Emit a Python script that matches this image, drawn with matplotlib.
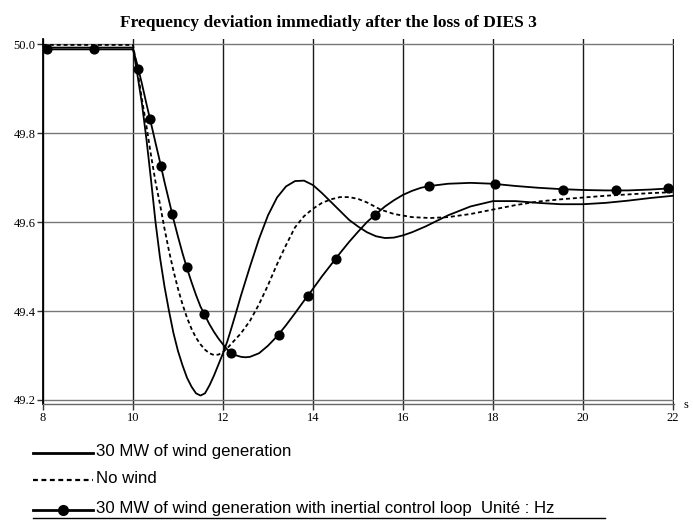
import matplotlib
matplotlib.use('Agg')
import matplotlib.pyplot as plt
from matplotlib.lines import Line2D

# ---------------- data ----------------
t_wind = [8.0, 10.0, 10.1, 10.2, 10.3, 10.4, 10.5, 10.6, 10.7, 10.8, 10.9, 11.0,
          11.1, 11.2, 11.3, 11.4, 11.5, 11.6, 11.7, 11.8, 11.9, 12.0, 12.1, 12.2,
          12.3, 12.4, 12.6, 12.8, 13.0, 13.2, 13.4, 13.6, 13.8, 14.0, 14.2, 14.4,
          14.6, 14.8, 15.0, 15.2, 15.4, 15.6, 15.8, 16.0, 16.2, 16.5, 17.0, 17.5,
          18.0, 18.5, 19.0, 19.5, 20.0, 20.5, 21.0, 21.5, 22.0]
f_wind = [49.992, 49.992, 49.93, 49.865, 49.785, 49.695, 49.60, 49.52, 49.455, 49.40,
          49.35, 49.31, 49.278, 49.25, 49.23, 49.215, 49.21, 49.215, 49.233, 49.255,
          49.28, 49.305, 49.333, 49.366, 49.40, 49.435, 49.50, 49.562, 49.615, 49.655,
          49.68, 49.692, 49.693, 49.683, 49.665, 49.645, 49.625, 49.605, 49.59,
          49.577, 49.568, 49.564, 49.565, 49.57, 49.577, 49.59, 49.615, 49.635,
          49.647, 49.647, 49.643, 49.64, 49.64, 49.643, 49.648, 49.654, 49.659]

t_nowind = [8.0, 10.0, 10.1, 10.2, 10.3, 10.4, 10.5, 10.6, 10.7, 10.8, 10.9, 11.0,
            11.1, 11.2, 11.3, 11.4, 11.5, 11.6, 11.7, 11.8, 11.9, 12.0, 12.1, 12.2,
            12.4, 12.6, 12.8, 13.0, 13.2, 13.4, 13.6, 13.8, 14.0, 14.2, 14.4, 14.6,
            14.8, 15.0, 15.2, 15.5, 15.8, 16.2, 16.6, 17.0, 17.5, 18.0, 18.5, 19.0,
            19.5, 20.0, 20.5, 21.0, 21.5, 22.0]
f_nowind = [49.998, 49.998, 49.94, 49.875, 49.815, 49.75, 49.69, 49.64, 49.585,
            49.535, 49.49, 49.45, 49.415, 49.385, 49.36, 49.34, 49.325, 49.313,
            49.305, 49.301, 49.302, 49.308, 49.317, 49.328, 49.35, 49.378, 49.415,
            49.458, 49.505, 49.548, 49.588, 49.613, 49.63, 49.643, 49.651, 49.656,
            49.656, 49.652, 49.644, 49.628, 49.618, 49.611, 49.609, 49.611, 49.618,
            49.628, 49.638, 49.646, 49.651, 49.655, 49.659, 49.662, 49.665, 49.667]

t_inertial = [8.0, 10.0, 10.1, 10.2, 10.3, 10.4, 10.5, 10.6, 10.7, 10.8, 10.9, 11.0,
              11.1, 11.2, 11.3, 11.4, 11.5, 11.6, 11.7, 11.8, 11.9, 12.0, 12.1, 12.2,
              12.3, 12.4, 12.5, 12.6, 12.8, 13.0, 13.2, 13.4, 13.6, 13.8, 14.0, 14.2,
              14.4, 14.6, 14.8, 15.0, 15.2, 15.4, 15.6, 15.8, 16.0, 16.2, 16.4, 16.6,
              17.0, 17.5, 18.0, 18.5, 19.0, 19.5, 20.0, 20.5, 21.0, 21.5, 22.0]
f_inertial = [49.988, 49.988, 49.952, 49.91, 49.865, 49.822, 49.778, 49.735, 49.69,
              49.648, 49.606, 49.567, 49.53, 49.496, 49.465, 49.436, 49.41, 49.39,
              49.37, 49.353, 49.338, 49.325, 49.313, 49.305, 49.30, 49.297, 49.296,
              49.297, 49.305, 49.322, 49.343, 49.368, 49.395, 49.423, 49.45, 49.478,
              49.504, 49.53, 49.555, 49.578, 49.60, 49.618, 49.635, 49.649, 49.661,
              49.67, 49.677, 49.681, 49.686, 49.688, 49.686, 49.681, 49.677, 49.674,
              49.672, 49.671, 49.671, 49.673, 49.676]

t_markers = [8.08, 9.13, 10.12, 10.38, 10.62, 10.87, 11.19, 11.58, 12.18, 13.24,
             13.88, 14.51, 15.38, 16.58, 18.05, 19.55, 20.73, 21.9]
f_markers = [49.988, 49.988, 49.945, 49.831, 49.726, 49.618, 49.499, 49.394, 49.306,
             49.346, 49.433, 49.518, 49.616, 49.681, 49.685, 49.673, 49.671, 49.676]

x_ticks = [8, 10, 12, 14, 16, 18, 20, 22]
y_ticks = [49.2, 49.4, 49.6, 49.8, 50.0]
y_labels = ['49.2', '49.4', '49.6', '49.8', '50.0']

title = 'Frequency deviation immediatly after the loss of DIES 3'
legend_labels = ['30 MW of wind generation', 'No wind',
                 '30 MW of wind generation with inertial control loop  Unité : Hz']

# ---------------- figure ----------------
W, H = 693, 520
fig = plt.figure(figsize=(W / 100, H / 100), dpi=100)
ax = fig.add_axes([43 / W, 1 - 404 / H, (674.35 - 43) / W, (404 - 38.7) / H])
ax.set_xlim(8, 22.03)
ax.set_ylim(49.191, 50.012)

serif = 'Liberation Serif'
sans = 'Liberation Sans'

# grid
ax.set_xticks(x_ticks)
ax.set_xticklabels([str(v) for v in x_ticks], fontfamily=serif, fontsize=9)
ax.set_yticks(y_ticks)
ax.set_yticklabels(y_labels, fontfamily=serif, fontsize=9)
ax.xaxis.grid(True, color='#1a1a1a', lw=1.0)
ax.yaxis.grid(True, color='#777777', lw=1.0)
ax.set_axisbelow(True)
ax.tick_params(direction='out', length=4, width=1, color='#333333', pad=1.5)
for s in ['top', 'right']:
    ax.spines[s].set_visible(False)
ax.spines['left'].set_color('black')
ax.spines['left'].set_linewidth(1.3)
ax.spines['bottom'].set_color('#666666')
ax.spines['bottom'].set_linewidth(1.0)

lw = 1.3
ax.plot(t_wind, f_wind, color='black', lw=lw, solid_joinstyle='round')
ax.plot(t_nowind, f_nowind, color='black', lw=lw, ls=(0, (2.2, 1.6)))
ax.plot(t_inertial, f_inertial, color='black', lw=lw, solid_joinstyle='round')
ax.plot(t_markers, f_markers, ls='none', marker='o', ms=6.3, color='black')

fig.text(683 / W, 1 - 405 / H, 's', fontfamily=serif, fontsize=9, va='center', ha='left')
fig.text(328 / W, 1 - 27 / H, title, fontfamily=serif, fontweight='bold',
         fontsize=12.5, ha='center', va='baseline')

# legend (manual)
x0, x1 = 33 / W, 93 / W
rows = [452.5, 479.5, 510]
styles = [dict(ls='-', lw=2.0), dict(ls=(0, (2.2, 1.6)), lw=1.6), dict(ls='-', lw=2.0)]
for i, (y, st, lab) in enumerate(zip(rows, styles, legend_labels)):
    yy = 1 - y / H
    fig.add_artist(Line2D([x0, x1], [yy, yy], color='black', transform=fig.transFigure, **st))
    if i == 2:
        fig.add_artist(Line2D([63 / W], [yy], marker='o', ms=7, color='black',
                              transform=fig.transFigure))
    fig.text(96 / W, yy + 1 / H, lab, fontfamily=sans, fontsize=12.1, va='center', ha='left')
fig.add_artist(Line2D([33 / W, 605 / W], [1 - 518 / H, 1 - 518 / H], color='black',
                      lw=1.0, transform=fig.transFigure))

fig.savefig('out.png', dpi=100)
